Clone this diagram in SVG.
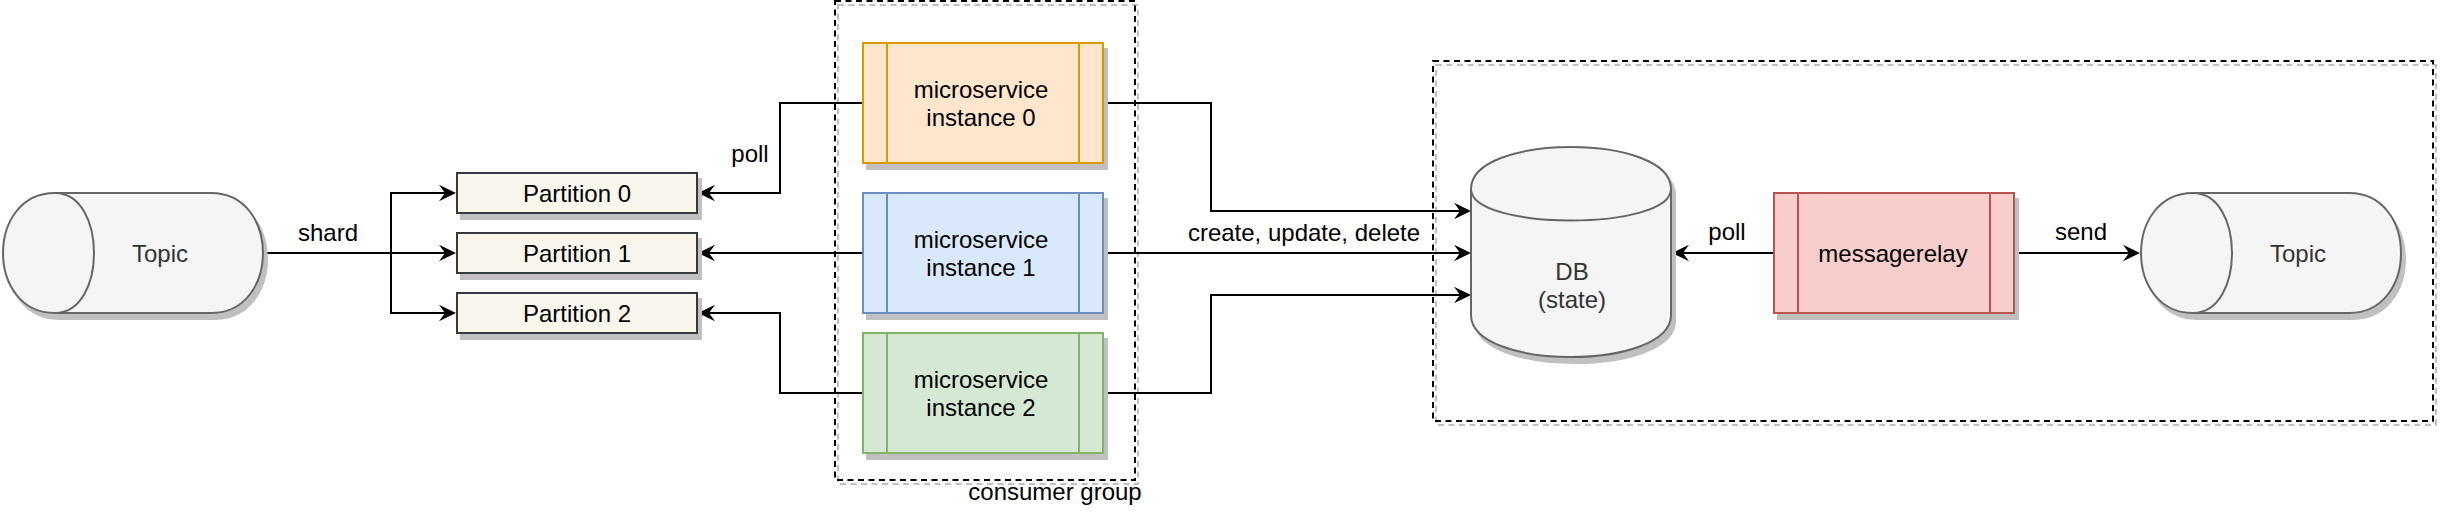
<svg xmlns="http://www.w3.org/2000/svg" width="2440" height="520" viewBox="0 0 2440 520">
<defs>
<style>
text{font-family:"Liberation Sans",Arial,Helvetica,sans-serif;font-size:24px;text-anchor:middle;fill:#000}
.gray{fill:#333333}
.sh{fill:#c0c0c0;stroke:#c0c0c0;stroke-width:2}
.dash{fill:none;stroke:#000;stroke-width:2;stroke-dasharray:6 4.5}
.dashsh{fill:none;stroke:#c0c0c0;stroke-width:2;stroke-dasharray:6 4.5}
.cyl{fill:#f5f5f5;stroke:#666666;stroke-width:2}
.part{fill:#f9f7ed;stroke:#36393d;stroke-width:2}
.edge{fill:none;stroke:#000;stroke-width:2;marker-end:url(#arr)}
.orange{fill:#ffe6cc;stroke:#d79b00;stroke-width:2}
.blue{fill:#dae8fc;stroke:#6c8ebf;stroke-width:2}
.green{fill:#d5e8d4;stroke:#82b366;stroke-width:2}
.red{fill:#f8cecc;stroke:#b85450;stroke-width:2}
</style>
<marker id="arr" markerUnits="userSpaceOnUse" markerWidth="20" markerHeight="20" refX="10" refY="10" orient="auto">
<path d="M18,10 L1,1.7 L7,10 L1,18.3 Z" fill="#000"/>
</marker>
</defs>
<rect width="2440" height="520" fill="#ffffff"/>

<g id="consumer-group">
<rect class="dashsh" x="838" y="5" width="300" height="479"/>
<rect class="dash" x="835" y="1" width="300" height="479"/>
<text x="1055" y="500">consumer group</text>
</g>

<g id="outbox-group">
<rect class="dashsh" x="1436" y="65" width="1000" height="360"/>
<rect class="dash" x="1433" y="61" width="1000" height="360"/>
</g>

<g id="connectors">
<path class="edge" d="M264,253 H391 V193 H448"/>
<path class="edge" d="M264,253 H448"/>
<path class="edge" d="M264,253 H391 V313 H448"/>
<text x="328" y="241">shard</text>
<path class="edge" d="M862,103 H780 V193 H706"/>
<path class="edge" d="M862,253 H706"/>
<path class="edge" d="M862,393 H780 V313 H706"/>
<text x="750" y="162">poll</text>
<path class="edge" d="M1104,103 H1211 V211 H1463"/>
<path class="edge" d="M1104,253 H1463"/>
<path class="edge" d="M1104,393 H1211 V295 H1463"/>
<text x="1304" y="241">create, update, delete</text>
<path class="edge" d="M1773,253 H1680"/>
<text x="1727" y="240">poll</text>
<path class="edge" d="M2015,253 H2132"/>
<text x="2081" y="240">send</text>
</g>

<g id="topic-in">
<path class="sh" transform="translate(4,6)" d="M55,193 C-14.3,193 -14.3,313 55,313 L211,313 C280.3,313 280.3,193 211,193 Z"/>
<path class="cyl" d="M55,193 C-14.3,193 -14.3,313 55,313 L211,313 C280.3,313 280.3,193 211,193 Z"/>
<path class="cyl" fill="none" d="M55,193 C107,193 107,313 55,313"/>
<text class="gray" x="160" y="261.5">Topic</text>
</g>

<g id="partition-0">
<rect class="sh" x="461" y="179" width="240" height="40"/>
<rect class="part" x="457" y="173" width="240" height="40"/>
<text x="577" y="201.5">Partition 0</text>
</g>
<g id="partition-1">
<rect class="sh" x="461" y="239" width="240" height="40"/>
<rect class="part" x="457" y="233" width="240" height="40"/>
<text x="577" y="261.5">Partition 1</text>
</g>
<g id="partition-2">
<rect class="sh" x="461" y="299" width="240" height="40"/>
<rect class="part" x="457" y="293" width="240" height="40"/>
<text x="577" y="321.5">Partition 2</text>
</g>

<g id="microservice-0">
<rect class="sh" x="867" y="49" width="240" height="120"/>
<rect class="orange" x="863" y="43" width="240" height="120"/>
<path class="orange" fill="none" d="M887,43 V163 M1079,43 V163"/>
<text x="981" y="97.5">microservice</text>
<text x="981" y="126">instance 0</text>
</g>
<g id="microservice-1">
<rect class="sh" x="867" y="199" width="240" height="120"/>
<rect class="blue" x="863" y="193" width="240" height="120"/>
<path class="blue" fill="none" d="M887,193 V313 M1079,193 V313"/>
<text x="981" y="247.5">microservice</text>
<text x="981" y="276">instance 1</text>
</g>
<g id="microservice-2">
<rect class="sh" x="867" y="339" width="240" height="120"/>
<rect class="green" x="863" y="333" width="240" height="120"/>
<path class="green" fill="none" d="M887,333 V453 M1079,333 V453"/>
<text x="981" y="387.5">microservice</text>
<text x="981" y="416">instance 2</text>
</g>

<g id="db">
<path class="sh" transform="translate(4,6)" d="M1471,189 C1471,133 1671,133 1671,189 L1671,315 C1671,371 1471,371 1471,315 Z"/>
<path class="cyl" d="M1471,189 C1471,133 1671,133 1671,189 L1671,315 C1671,371 1471,371 1471,315 Z"/>
<path class="cyl" fill="none" d="M1471,189 C1471,231 1671,231 1671,189"/>
<text class="gray" x="1572" y="279.5">DB</text>
<text class="gray" x="1572" y="308">(state)</text>
</g>

<g id="messagerelay">
<rect class="sh" x="1778" y="199" width="240" height="120"/>
<rect class="red" x="1774" y="193" width="240" height="120"/>
<path class="red" fill="none" d="M1798,193 V313 M1990,193 V313"/>
<text x="1893" y="261.5">messagerelay</text>
</g>

<g id="topic-out">
<path class="sh" transform="translate(4,6)" d="M2193,193 C2123.7,193 2123.7,313 2193,313 L2349,313 C2418.3,313 2418.3,193 2349,193 Z"/>
<path class="cyl" d="M2193,193 C2123.7,193 2123.7,313 2193,313 L2349,313 C2418.3,313 2418.3,193 2349,193 Z"/>
<path class="cyl" fill="none" d="M2193,193 C2245,193 2245,313 2193,313"/>
<text class="gray" x="2298" y="261.5">Topic</text>
</g>
</svg>
